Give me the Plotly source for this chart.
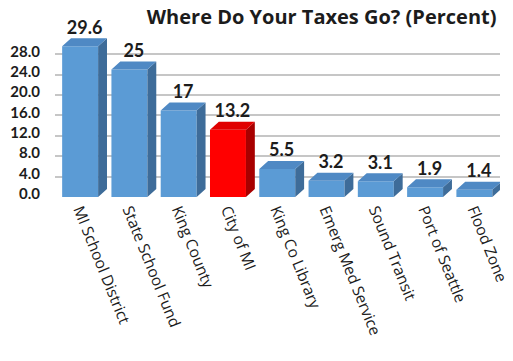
import plotly.graph_objects as go

categories = ["MI School District", "State School Fund", "King County", "City of MI",
              "King Co Library", "Emerg Med Service", "Sound Transit", "Port of Seattle", "Flood Zone"]
values = [29.6, 25, 17, 13.2, 5.5, 3.2, 3.1, 1.9, 1.4]
value_labels = ["29.6", "25", "17", "13.2", "5.5", "3.2", "3.1", "1.9", "1.4"]
y_ticks = [0, 4, 8, 12, 16, 20, 24, 28]
y_tick_labels = ["0.0", "4.0", "8.0", "12.0", "16.0", "20.0", "24.0", "28.0"]
highlight = "City of MI"

BAR_W = 0.73   # bar width in category units
DX = 0.18      # 3D depth offset (x, category units)
DY = 1.57      # 3D depth offset (y, value units)

BLUE_FRONT, BLUE_TOP, BLUE_SIDE = "#5b9bd5", "#4f89c4", "#3e6c99"
RED_FRONT, RED_TOP, RED_SIDE = "#ff0000", "#e00000", "#a80000"

xs = list(range(len(categories)))
is_hi = [c == highlight for c in categories]

fig = go.Figure()

fig.add_trace(go.Bar(
    x=xs, y=values, width=BAR_W,
    marker=dict(color=[RED_FRONT if h else BLUE_FRONT for h in is_hi], line=dict(width=0)),
    hoverinfo="skip", showlegend=False,
))


def faces(hi_flag):
    sx, sy, tx, ty = [], [], [], []
    for x, v, h in zip(xs, values, is_hi):
        if h != hi_flag:
            continue
        l, r = x - BAR_W / 2, x + BAR_W / 2
        sx += [r, r, r + DX, r + DX, r, None]
        sy += [0, v, v + DY, DY, 0, None]
        tx += [l, r, r + DX, l + DX, l, None]
        ty += [v, v, v + DY, v + DY, v, None]
    return sx, sy, tx, ty


for hi_flag, top_c, side_c in [(False, BLUE_TOP, BLUE_SIDE), (True, RED_TOP, RED_SIDE)]:
    sx, sy, tx, ty = faces(hi_flag)
    fig.add_trace(go.Scatter(x=sx, y=sy, mode="lines", fill="toself", fillcolor=side_c,
                             line=dict(width=0, color=side_c), hoverinfo="skip", showlegend=False))
    fig.add_trace(go.Scatter(x=tx, y=ty, mode="lines", fill="toself", fillcolor=top_c,
                             line=dict(width=0, color=top_c), hoverinfo="skip", showlegend=False))

fig.add_trace(go.Scatter(
    x=[x + DX / 2 for x in xs], y=[v + DY for v in values],
    mode="text", text=value_labels, textposition="top center",
    textfont=dict(family="Lato", size=18, color="#1c1c1c", weight="bold"),
    cliponaxis=False, hoverinfo="skip", showlegend=False,
))

fig.update_layout(
    width=513, height=361,
    margin=dict(l=55, r=13, t=37, b=164, autoexpand=False),
    paper_bgcolor="white", plot_bgcolor="white",
    title=dict(text="<b>Where Do Your Taxes Go? (Percent)</b>", x=0.627, xanchor="center",
               y=0.953, yanchor="middle",
               font=dict(family="Open Sans", size=20, color="#1c1c1c")),
    xaxis=dict(range=[-0.51, 8.52], tickmode="array", tickvals=xs, ticktext=categories,
               tickangle=68, showgrid=False, zeroline=False, showline=False, ticks="",
               ticklabeloverflow="allow", automargin=False,
               tickfont=dict(family="Open Sans", size=15.5, color="#1c1c1c")),
    yaxis=dict(range=[0, 31.4], tickmode="array", tickvals=y_ticks, ticktext=y_tick_labels,
               showgrid=True, gridcolor="#c6c6c6", gridwidth=2, zeroline=False, showline=False,
               ticks="", ticklabelstandoff=14, ticklabelshift=-3, automargin=False,
               tickfont=dict(family="Lato", size=15, color="#1c1c1c", weight="bold")),
    font=dict(family="Lato"),
)

fig.write_html("out.html")
